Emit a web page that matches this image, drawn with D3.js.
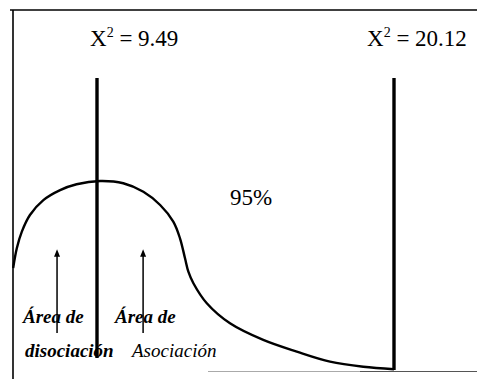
<!DOCTYPE html>
<html>
<head>
<meta charset="utf-8">
<script src="https://cdn.jsdelivr.net/npm/d3@7"></script>
<style>
  body { margin: 0; background: #fff; }
  svg { display: block; }
</style>
</head>
<body>
<div id="chart"></div>
<script>
// chi-square curve (schematic), x in chi-square units, y relative height
var curveX = [6.49, 6.62, 6.80, 7.09, 7.57, 8.17, 8.76, 9.60, 10.43, 11.15, 11.75, 12.22, 12.46, 12.64, 12.76, 12.94, 13.42, 14.25, 15.44, 16.64, 17.83, 19.02, 20.12];
var curveY = [0.540, 0.644, 0.732, 0.820, 0.899, 0.952, 0.983, 1.0, 0.988, 0.943, 0.873, 0.785, 0.697, 0.591, 0.520, 0.459, 0.353, 0.247, 0.159, 0.097, 0.044, 0.017, 0.004];

// critical values
var critValues = [9.49, 20.12];
var critLabels = ["9.49", "20.12"];
var critTop = [1.545, 1.545];
var critBottom = [0.063, 0.0];

// arrows
var arrowX = [8.06, 11.14];
var arrowFrom = [0.196, 0.196];
var arrowTo = [0.635, 0.635];

var width = 477, height = 379;
var serif = "'Liberation Serif', 'DejaVu Serif', 'Times New Roman', Times, serif";

var svg = d3.select("#chart")
  .append("svg")
    .attr("width", width)
    .attr("height", height)
    .attr("font-family", serif);

var x = d3.scaleLinear()
  .domain([9.49, 20.12])
  .range([97, 394]);

var y = d3.scaleLinear()
  .domain([0, 1])
  .range([370, 181]);

// frame (left and top)
svg.append("line")
  .attr("x1", 10).attr("x2", width)
  .attr("y1", 10).attr("y2", 10)
  .attr("stroke", "#000").attr("stroke-width", 1.6);
svg.append("line")
  .attr("x1", 13).attr("x2", 13)
  .attr("y1", 10).attr("y2", height)
  .attr("stroke", "#000").attr("stroke-width", 1.6);
// bottom edge
svg.append("line")
  .attr("x1", 208).attr("x2", 360)
  .attr("y1", 371.5).attr("y2", 371.5)
  .attr("stroke", "#aaa").attr("stroke-width", 1);
svg.append("line")
  .attr("x1", 360).attr("x2", width)
  .attr("y1", 371.5).attr("y2", 371.5)
  .attr("stroke", "#555").attr("stroke-width", 1.2);

// curve
var pts = curveX.map(function(d, i) { return [d, curveY[i]]; });
svg.append("path")
  .datum(pts)
  .attr("fill", "none")
  .attr("stroke", "#000")
  .attr("stroke-width", 2.4)
  .attr("d", d3.line()
    .x(function(d) { return x(d[0]); })
    .y(function(d) { return y(d[1]); })
    .curve(d3.curveCatmullRom.alpha(0.5)));

// critical lines
svg.selectAll(".crit")
  .data(critValues)
  .enter()
  .append("line")
    .attr("class", "crit")
    .attr("x1", function(d) { return x(d); })
    .attr("x2", function(d) { return x(d); })
    .attr("y1", function(d, i) { return y(critTop[i]); })
    .attr("y2", function(d, i) { return y(critBottom[i]); })
    .attr("stroke", "#000")
    .attr("stroke-width", 3.4);

// labels X^2 = ...
var labDx = [-7, -27];
var lab = svg.selectAll(".critlab")
  .data(critValues)
  .enter()
  .append("text")
    .attr("class", "critlab")
    .attr("x", function(d, i) { return x(d) + labDx[i]; })
    .attr("y", 46)
    .style("font-size", "23px");
lab.append("tspan").text("X");
lab.append("tspan").attr("dy", -9).style("font-size", "14px").text("2");
lab.append("tspan").attr("dy", 9).text(function(d, i) { return " = " + critLabels[i]; });

// 95%
svg.append("text")
  .attr("x", 230).attr("y", 205)
  .style("font-size", "23px")
  .text("95%");

// arrows
svg.append("defs").append("marker")
  .attr("id", "head")
  .attr("viewBox", "0 0 10 10")
  .attr("refX", 5).attr("refY", 5)
  .attr("markerWidth", 5).attr("markerHeight", 5)
  .attr("orient", "auto")
  .append("path")
    .attr("d", "M0,1 L10,5 L0,9 Z")
    .attr("fill", "#000");

svg.selectAll(".arrow")
  .data(arrowX)
  .enter()
  .append("line")
    .attr("class", "arrow")
    .attr("x1", function(d) { return x(d); })
    .attr("x2", function(d) { return x(d); })
    .attr("y1", function(d, i) { return y(arrowFrom[i]); })
    .attr("y2", function(d, i) { return y(arrowTo[i]) + 3; })
    .attr("stroke", "#000")
    .attr("stroke-width", 1.5)
    .attr("marker-end", "url(#head)");

// area labels
function label(tx, ty, s, bold) {
  svg.append("text").attr("x", tx).attr("y", ty)
    .style("font-size", "19px").style("font-style", "italic")
    .style("font-weight", bold ? "bold" : "normal")
    .text(s);
}
label(23, 323, "Área de", true);
label(115, 323, "Área de", true);
label(25, 357, "disociación", true);
label(132, 357, "Asociación", false);
</script>
</body>
</html>
